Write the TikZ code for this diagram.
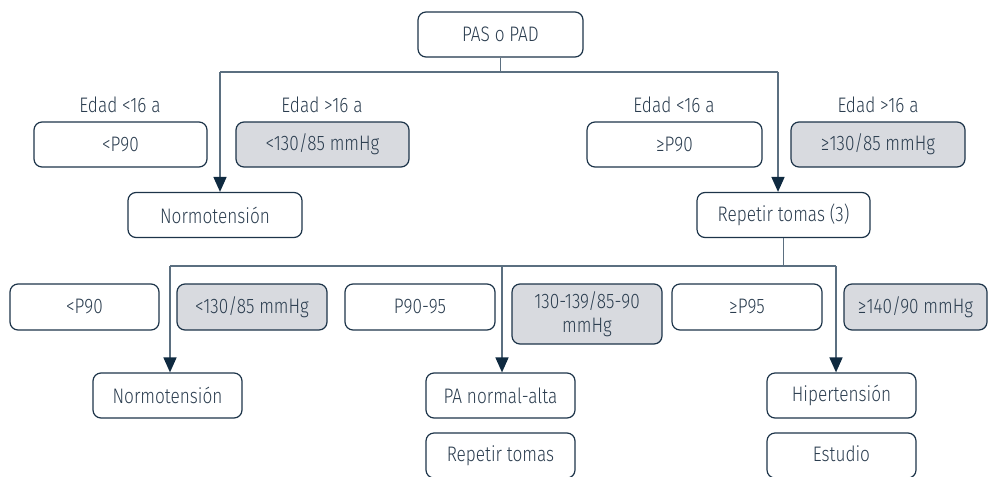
\documentclass[tikz,border=0pt]{standalone}
\usepackage{fontspec}
\setmainfont{Fira Sans}[UprightFont={* Light},FakeStretch=0.82]
\usepackage{tikz}
\usetikzlibrary{arrows.meta,positioning,calc}

\definecolor{borde}{HTML}{1D3449}
\definecolor{linea}{HTML}{5B6F80}
\definecolor{punta}{HTML}{0F2A40}
\definecolor{relleno}{HTML}{D8DADF}
\definecolor{texto}{HTML}{2B3D4F}

\tikzset{
  caja/.style={draw=borde, line width=0.6pt, rounded corners=4pt,
    minimum width=86.5pt, minimum height=22.5pt, inner sep=1pt,
    align=center, text=texto, font=\fontsize{10.5}{12}\selectfont},
  cajagris/.style={caja, fill=relleno},
  rotulo/.style={text=texto, font=\fontsize{10.5}{12}\selectfont},
  conector/.style={draw=linea, line width=0.8pt},
  flecha/.style={conector, -{Triangle[length=7.5pt,width=6.5pt,color=punta]}}
}

\begin{document}
\begin{tikzpicture}[x=0.5pt,y=-0.5pt]
  \useasboundingbox (0,0) rectangle (988,476);
  % primer nivel
  \node[caja, minimum width=82.5pt] (pas) at (500.5,34.5) {PAS o PAD};
  \node[rotulo] (e1) at (120,105) {Edad <16 a};
  \node[rotulo] (e2) at (322,105) {Edad >16 a};
  \node[rotulo] (e3) at (674,105) {Edad <16 a};
  \node[rotulo] (e4) at (878,105) {Edad >16 a};
  \node[caja] (a1) at (120.5,144.5) {<P90};
  \node[cajagris] (a2) at (322.5,144.5) {<130/85 mmHg};
  \node[caja, minimum width=87.5pt] (a3) at (674.5,144.5) {≥P90};
  \node[cajagris, minimum width=87pt] (a4) at (878,144.5) {≥130/85 mmHg};
  \node[caja, minimum width=87pt] (normo1) at (215,215) {Normotensión};
  \node[caja] (rep) at (783.5,215) {Repetir tomas (3)};
  \coordinate (izq) at (220,72);
  \coordinate (der) at (778,72);
  \draw[conector] (pas.south) -- (pas.south |- izq);
  \draw[conector] (izq) -- (der);
  \draw[flecha] (izq) -- (izq |- normo1.north);
  \draw[flecha] (der) -- (der |- rep.north);
  % segundo nivel
  \node[caja, minimum width=74.5pt, minimum height=23pt] (b1) at (84.5,307) {<P90};
  \node[cajagris, minimum width=75pt, minimum height=23pt] (b2) at (252,307) {<130/85 mmHg};
  \node[caja, minimum width=75pt, minimum height=23pt] (b3) at (420,307) {P90-95};
  \node[cajagris, minimum width=75pt, minimum height=30pt] (b4) at (587,314) {130-139/85-90\\mmHg};
  \node[caja, minimum width=75pt, minimum height=23pt] (b5) at (747,307) {≥P95};
  \node[cajagris, minimum width=71.5pt, minimum height=23pt] (b6) at (915.5,307) {≥140/90 mmHg};
  \coordinate (rama) at (rep.south |- 0,266);
  \coordinate (r1) at (170,266);
  \coordinate (r2) at (502,266);
  \coordinate (r3) at (836,266);
  \node[caja, minimum width=74.5pt] (normo2) at (167.5,395.5) {Normotensión};
  \node[caja, minimum width=74.5pt] (alta) at (500.5,395.5) {PA normal-alta};
  \node[caja, minimum width=74.5pt] (hiper) at (841.5,395.5) {Hipertensión};
  \node[caja, minimum width=74.5pt, text depth=2pt] (rep2) at (500.5,455.5) {Repetir tomas};
  \node[caja, minimum width=74.5pt, text depth=2pt] (estudio) at (841.5,455.5) {Estudio};
  \draw[conector] (rep.south) -- (rama);
  \draw[conector] (r1) -- (r3);
  \draw[flecha] (r1) -- (r1 |- normo2.north);
  \draw[flecha] (r2) -- (r2 |- alta.north);
  \draw[flecha] (r3) -- (r3 |- hiper.north);
\end{tikzpicture}
\end{document}
